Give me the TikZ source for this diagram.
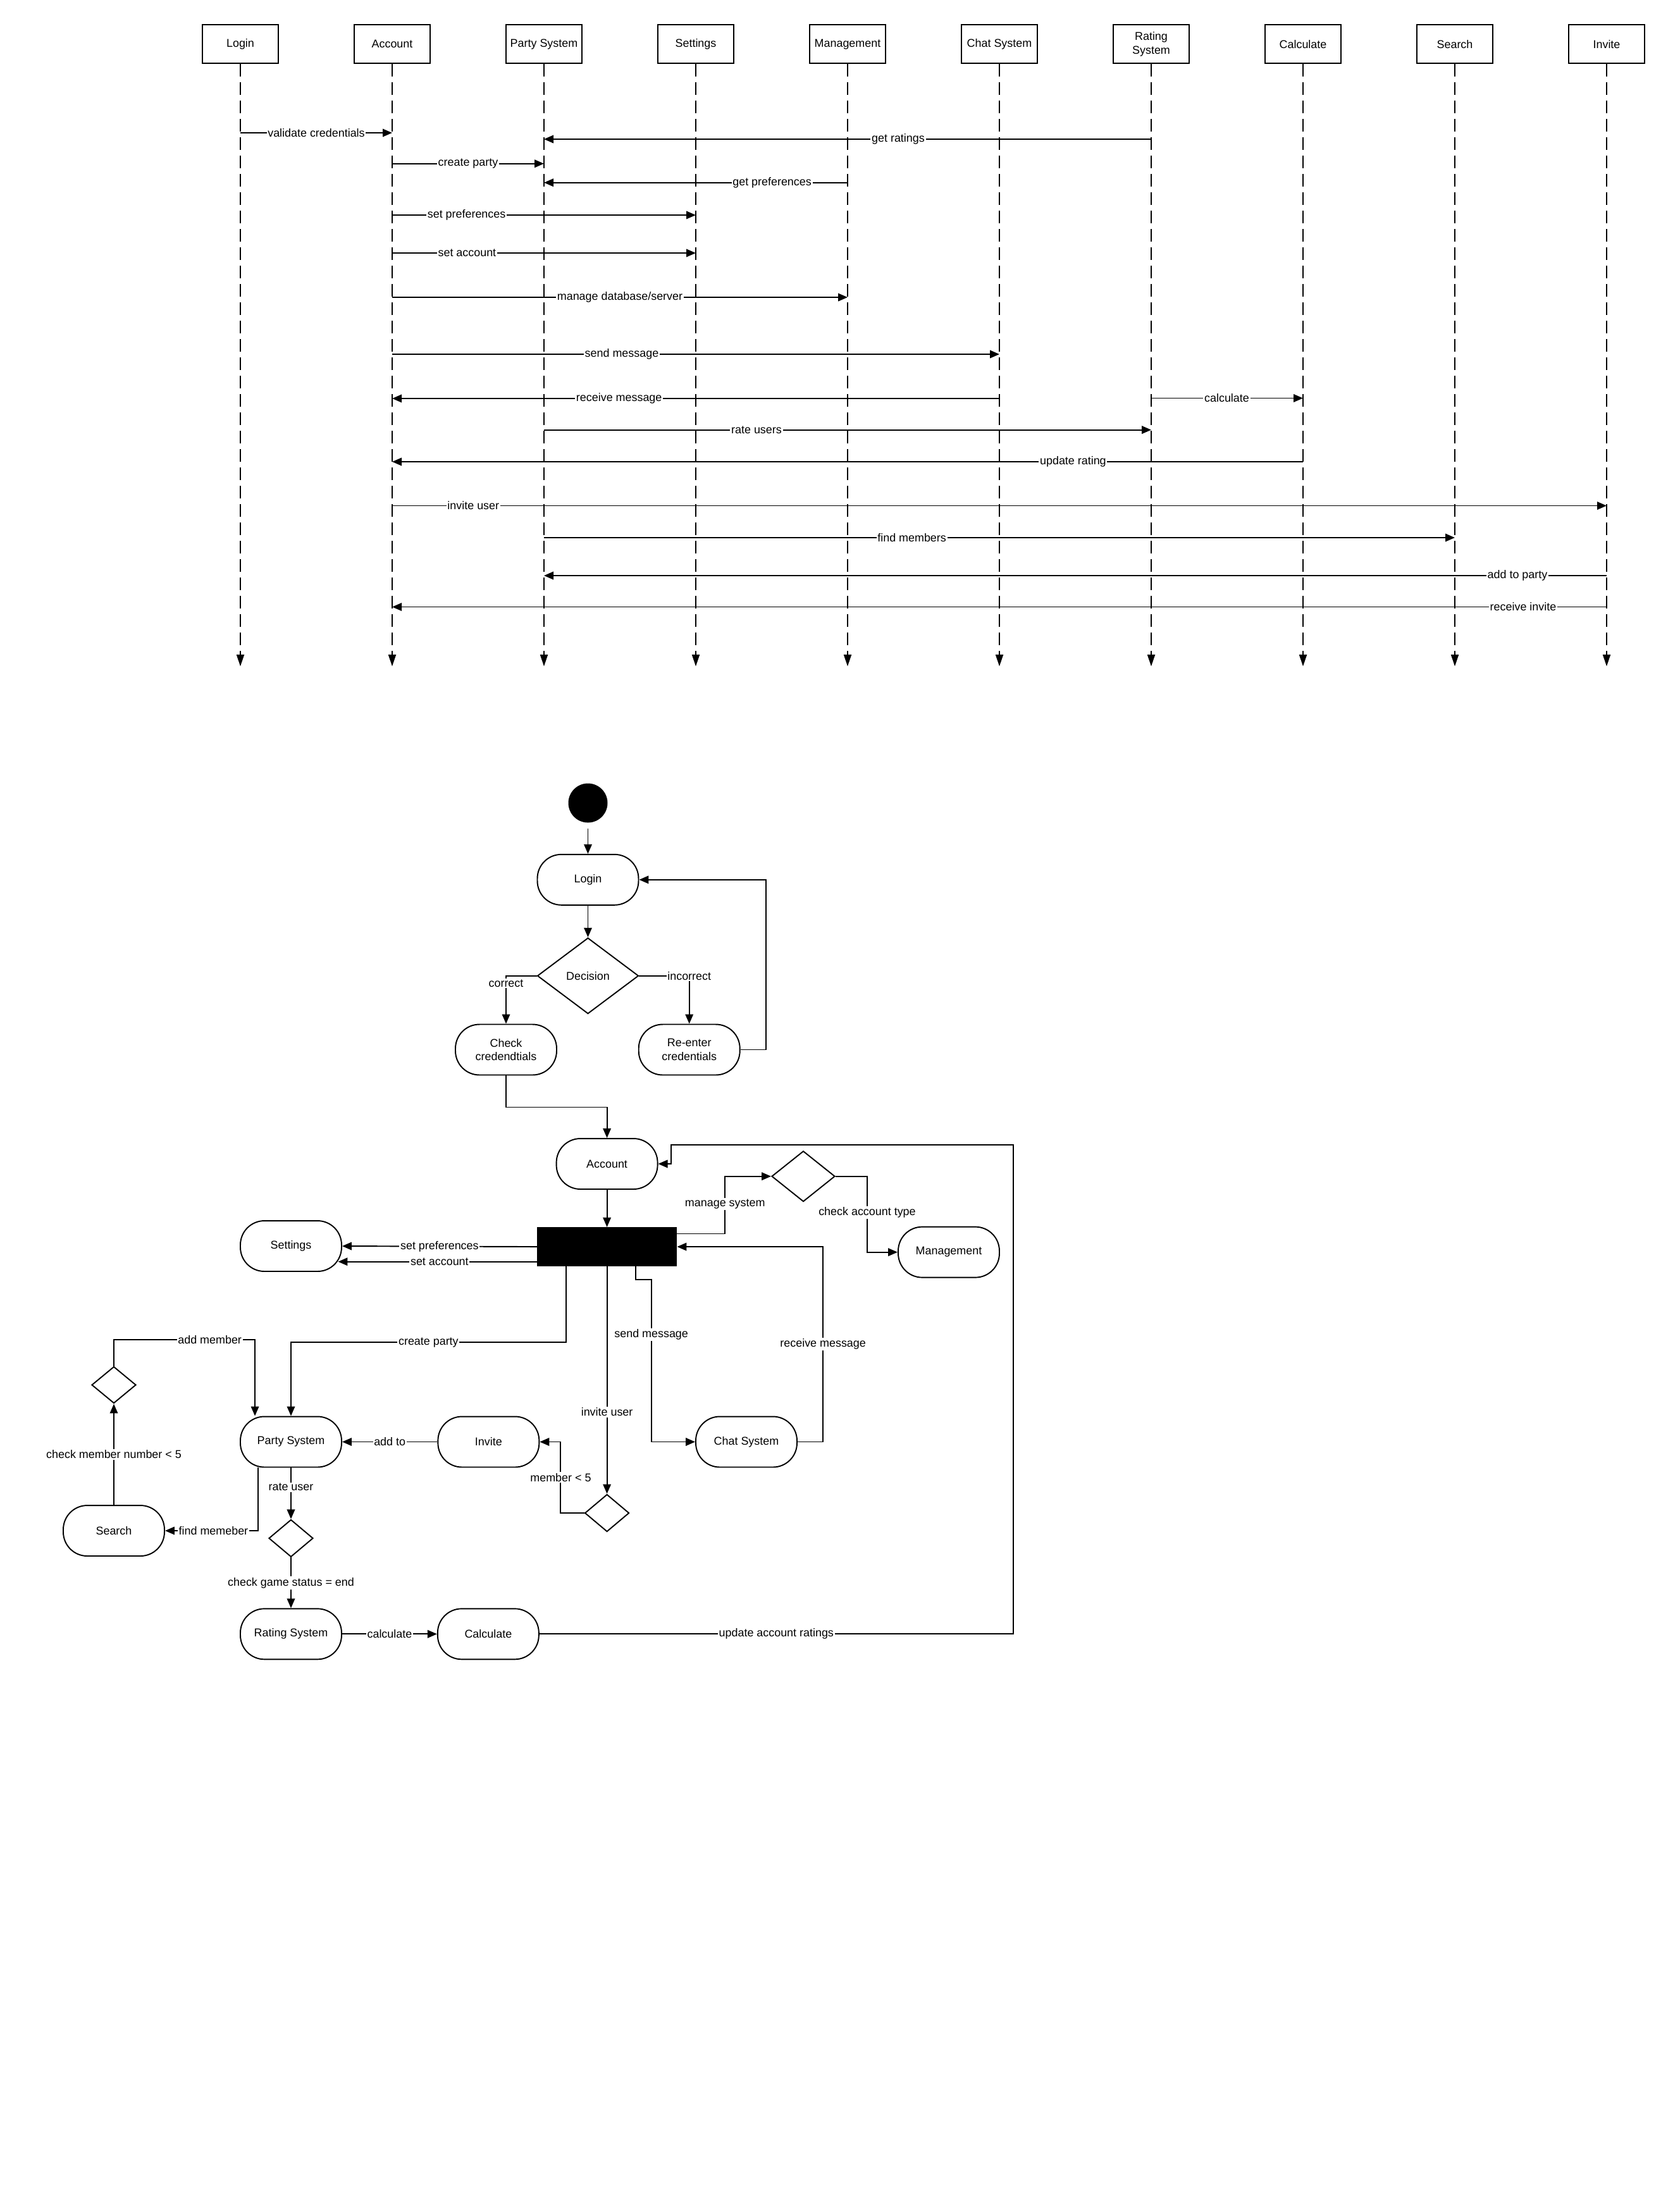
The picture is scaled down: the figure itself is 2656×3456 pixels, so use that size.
\documentclass[tikz,border=0pt]{standalone}
\usepackage{fontspec}
\setmainfont{Liberation Sans}
\usetikzlibrary{shapes.geometric,arrows.meta,positioning}

\tikzset{
  lane/.style={draw, line width=1.4pt, minimum width=2.4cm, minimum height=1.22cm, align=center},
  lifeline/.style={line width=1.1pt, dash pattern=on 0.39cm off 0.19cm, -{Triangle[length=0.37cm,width=0.24cm]}},
  msg/.style={line width=1.1pt, -{Triangle[length=0.3cm,width=0.25cm]}},
  lbl/.style={fill=white, inner sep=1pt},
  activity/.style={draw, line width=1.1pt, rounded corners=0.76cm, minimum width=3.2cm, minimum height=1.6cm, align=center},
  choice/.style={draw, diamond, line width=1.1pt, inner sep=0pt},
  flow/.style={line width=1.1pt, -{Triangle[length=0.3cm,width=0.25cm]}}
}

\begin{document}
\begin{tikzpicture}[x=0.02cm, y=-0.02cm, font=\fontsize{10.2pt}{12.4pt}\selectfont]
\fill[white, use as bounding box] (0,0) rectangle (2656,3456);

% sequence diagram
\foreach \n/\t [count=\i from 0] in {login/Login, account/Account, party/Party System, settings/Settings, mgmt/Management, chat/Chat System, rating/Rating\\System, calc/Calculate, search/Search, invite/Invite}
{
  \node[lane] (\n) at ({380+240*\i},69.7) {\t};
  \draw[lifeline] (\n.south) -- ++(0,952);
}

\foreach \a/\b/\y/\lx/\t in {
  login/account/210/500/validate credentials,
  rating/party/220/1420/get ratings,
  account/party/258.7/740/create party,
  mgmt/party/288.7/1220.6/get preferences,
  account/settings/340/737.6/set preferences,
  account/settings/400/738.4/set account,
  account/mgmt/470/980/{manage database/server},
  account/chat/560/983/send message,
  chat/account/630/978.7/receive message,
  rating/calc/629.5/1939.5/calculate,
  party/rating/679.6/1196/rate users,
  calc/account/730/1696.4/update rating,
  account/invite/799.5/748.3/invite user,
  party/search/850/1441.6/find members,
  invite/party/910/2399/add to party,
  invite/account/959.5/2408/receive invite}
{
  \draw[msg] (\a |- 0,\y) -- (\b |- 0,\y);
  \node[lbl] at (\lx,\y) {\t};
}

% activity diagram
\node[circle, fill=black, minimum size=1.24cm, inner sep=0pt] (start) at (929.5,1269.5) {};
\node[activity, below=0.98cm of start] (aLogin) {Login};
\node[choice, minimum width=3.2cm, minimum height=2.4cm, below=1cm of aLogin] (decision) {Decision};
\node[activity] (checkCred) at (800,1659.5) {Check\\credendtials};
\node[activity] (reEnter) at (1089.7,1659.5) {Re-enter\\credentials};
\node[activity] (aAccount) at (959.6,1840) {Account};
\node[fill=black, minimum width=4.42cm, minimum height=1.23cm, inner sep=0pt, below=1.18cm of aAccount] (fork) {};
\node[activity] (aSettings) at (460,1970) {Settings};
\node[choice, minimum width=2cm, minimum height=1.6cm] (typeCheck) at (1270,1859.7) {};
\node[activity] (aMgmt) at (1500,1979.6) {Management};
\node[activity] (aParty) at (460,2279.5) {Party System};
\node[activity, right=3.01cm of aParty] (aInvite) {Invite};
\node[activity] (aChat) at (1180,2279.5) {Chat System};
\node[choice, minimum width=1.4cm, minimum height=1.18cm, below=7.19cm of fork] (memberCheck) {};
\node[choice, minimum width=1.4cm, minimum height=1.16cm] (countCheck) at (180,2189.5) {};
\node[activity] (aSearch) at (180,2420) {Search};
\node[choice, minimum width=1.4cm, minimum height=1.18cm, below=1.62cm of aParty] (gameCheck) {};
\node[activity, below=1.6cm of gameCheck] (aRating) {Rating System};
\node[activity, right=3.0cm of aRating] (aCalc) {Calculate};
\coordinate (acctOut) at ([yshift=0.15cm]fork.south west);

\draw[flow, shorten <=0.18cm] (start) -- (aLogin);
\draw[flow] (aLogin) -- (decision);
\draw[flow] (decision.west) -| node[lbl, pos=0.58] {correct} (checkCred.north);
\draw[flow] (decision.east) -| node[lbl, pos=0.5] {incorrect} (reEnter.north);
\draw[flow] (reEnter.east) -- ++(40.2,0) |- (aLogin.east);
\draw[flow] (checkCred.south) -- ++(0,50) -| (aAccount.north);
\draw[flow] (aAccount) -- (fork);
\draw[flow] (fork.west) -- node[lbl] {set preferences} (aSettings.east);
\draw[flow, shorten >=-0.13cm] (acctOut) -- node[lbl] {set account} (acctOut -| aSettings.east);
\draw[flow] ([xshift=0.92cm]fork.south west) -- ++(0,120) -| node[lbl, pos=0.25] {create party} (aParty.north);
\draw[flow] (countCheck.north) -- ++(0,-41.3) -| node[lbl, pos=0.34] {add member} ([xshift=0.48cm]aParty.north west);
\draw[flow] (aSearch) -- node[lbl] {check member number < 5} (countCheck);
\draw[flow] ([xshift=0.58cm]aParty.south west) |- node[lbl, pos=0.74] {find memeber} (aSearch.east);
\draw[flow] (aParty) -- node[lbl, pos=0.38] {rate user} (gameCheck);
\draw[flow] (gameCheck) -- node[lbl] {check game status = end} (aRating);
\draw[flow] (aRating) -- node[lbl] {calculate} (aCalc);
\draw[flow] (aCalc.east) -- node[lbl] {update account ratings} ++(749,0) |- ([xshift=0.41cm,yshift=0.6cm]aAccount.east) |- (aAccount.east);
\draw[flow] ([yshift=-0.21cm]fork.north east) -- ++(75.8,0) |- node[lbl, pos=0.26] {manage system} (typeCheck.west);
\draw[flow] (typeCheck.east) -- ++(50,0) |- node[lbl, pos=0.24] {check account type} (aMgmt.west);
\draw[flow] ([xshift=-1.31cm]fork.south east) -- ++(0,20.5) -- ++(24.7,0) |- node[lbl, pos=0.17] {send message} (aChat.west);
\draw[flow] (aChat.east) -- ++(40.2,0) |- node[lbl, pos=0.25] {receive message} (fork.east);
\draw[flow] (fork) -- node[lbl, pos=0.64] {invite user} (memberCheck);
\draw[flow] (memberCheck.west) -- ++(-37.2,0) |- node[lbl, pos=0.25] {member < 5} (aInvite.east);
\draw[flow] (aInvite) -- node[lbl] {add to} (aParty);
\end{tikzpicture}
\end{document}
